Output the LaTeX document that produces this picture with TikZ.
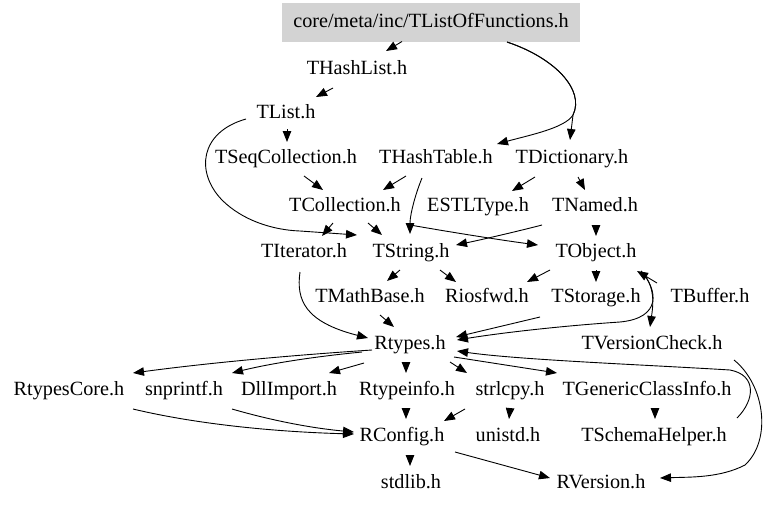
\documentclass[tikz,border=0pt]{standalone}
\usepackage{fontspec}
\setmainfont{Liberation Serif}
\usetikzlibrary{arrows.meta,calc}
\definecolor{rootgray}{HTML}{D3D3D3}
\tikzset{
  hdr/.style={inner sep=0pt, font=\fontsize{20.2}{24}\selectfont, text height=14pt, text depth=4.5pt},
  rootbox/.style={hdr, fill=rootgray, minimum width=298pt, minimum height=39pt},
  edge/.style={draw=black, line width=0.9pt, -{Triangle[length=11pt,width=8.5pt]}}
}
\begin{document}
\begin{tikzpicture}[x=1pt,y=-1pt]
\useasboundingbox (0,0) rectangle (768,507);
% nodes
\node[rootbox] (root) at (431,22.5) {core/meta/inc/TListOfFunctions.h};
\node[hdr] (HL) at (357,70) {THashList.h};
\node[hdr] (TL) at (286,114) {TList.h};
\node[hdr] (SC) at (286,159) {TSeqCollection.h};
\node[hdr] (HT) at (436,159) {THashTable.h};
\node[hdr] (DI) at (572,159) {TDictionary.h};
\node[hdr] (CO) at (345,207) {TCollection.h};
\node[hdr] (ES) at (478,207) {ESTLType.h};
\node[hdr] (NA) at (595,207) {TNamed.h};
\node[hdr] (IT) at (304,253) {TIterator.h};
\node[hdr] (ST) at (411,253) {TString.h};
\node[hdr] (OB) at (596,253) {TObject.h};
\node[hdr] (MB) at (370,298) {TMathBase.h};
\node[hdr] (RI) at (487,298) {Riosfwd.h};
\node[hdr] (SO) at (596,298) {TStorage.h};
\node[hdr] (BU) at (710,298) {TBuffer.h};
\node[hdr] (RT) at (410,345) {Rtypes.h};
\node[hdr] (VC) at (652,345) {TVersionCheck.h};
\node[hdr] (RC) at (69,391) {RtypesCore.h};
\node[hdr] (SN) at (184,391) {snprintf.h};
\node[hdr] (DL) at (289,391) {DllImport.h};
\node[hdr] (TI) at (407,391) {Rtypeinfo.h};
\node[hdr] (SL) at (510,391) {strlcpy.h};
\node[hdr] (GC) at (647,391) {TGenericClassInfo.h};
\node[hdr] (CF) at (402,437) {RConfig.h};
\node[hdr] (UN) at (508,437) {unistd.h};
\node[hdr] (SH) at (654,437) {TSchemaHelper.h};
\node[hdr] (SD) at (411,484) {stdlib.h};
\node[hdr] (RV) at (601,484) {RVersion.h};
% edges
\draw[edge] ($(root)+(-29,19)$) -- ($(HL)+(29,-19)$);
\draw[edge] ($(root)+(76,19.5)$) .. controls (555,58) and (585,90) .. (573,115) .. controls (565,128) and (530,135) .. ($(HT)+(61,-15)$);
\draw[edge] ($(root)+(76,19.5)$) .. controls (555,58) and (585,90) .. (573,115) -- ($(DI)+(-2,-19)$);
\draw[edge] ($(HL)+(-24,18)$) -- ($(TL)+(30,-17)$);
\draw[edge] ($(TL)+(1,15)$) -- ($(SC)+(1,-17)$);
\draw[edge] ($(TL)+(-40,5)$) .. controls (200,132) and (195,172) .. (222,200) .. controls (242,220) and (272,230) .. (300,231) -- ($(ST)+(-54,-18)$);
\draw[edge] ($(SC)+(18,17)$) -- ($(CO)+(-22,-17)$);
\draw[edge] ($(HT)+(-30,17)$) -- ($(CO)+(38,-17)$);
\draw[edge] ($(HT)+(-14,19)$) .. controls (415,195) and (410,215) .. ($(ST)+(-1,-19)$);
\draw[edge] ($(DI)+(-37,18)$) -- ($(ES)+(34,-16)$);
\draw[edge] ($(DI)+(6,18)$) -- ($(NA)+(-10,-17)$);
\draw[edge] ($(CO)+(-12,16)$) -- ($(IT)+(18,-17)$);
\draw[edge] ($(CO)+(23,16)$) -- ($(ST)+(-29,-18)$);
\draw[edge] ($(CO)+(65,18)$) .. controls (450,232) and (500,240) .. ($(OB)+(-58,-8)$);
\draw[edge] ($(NA)+(-53,18)$) .. controls (515,232) and (480,240) .. ($(ST)+(45,-8)$);
\draw[edge] ($(NA)+(1,18)$) -- ($(OB)+(0,-17)$);
\draw[edge] ($(IT)+(-4,19)$) .. controls (296,300) and (305,322) .. ($(RT)+(-42,-7)$);
\draw[edge] ($(ST)+(-11,17)$) -- ($(MB)+(17,-17)$);
\draw[edge] ($(ST)+(29,17)$) -- ($(RI)+(-31,-16)$);
\draw[edge] ($(OB)+(-46,17)$) -- ($(RI)+(40,-16)$);
\draw[edge] ($(OB)+(0,17)$) -- ($(SO)+(0,-16)$);
\draw[edge] ($(OB)+(45,18)$) .. controls (656,286) and (653,306) .. ($(VC)+(-2,-18)$);
\draw[edge] ($(OB)+(45,18)$) .. controls (658,290) and (662,318) .. (620,322) .. controls (560,326) and (500,333) .. ($(RT)+(47,-5)$);
\draw[edge] ($(BU)+(-53,-15)$) -- ($(OB)+(41,18)$);
\draw[edge] ($(SO)+(-56,19)$) -- ($(RT)+(46,-8)$);
\draw[edge] ($(MB)+(10,17)$) -- ($(RT)+(-16,-18)$);
\draw[edge] ($(RT)+(-38,5)$) .. controls (280,356) and (200,364) .. ($(RC)+(64,-18)$);
\draw[edge] ($(RT)+(-48,7)$) .. controls (300,358) and (260,366) .. ($(SN)+(48,-18)$);
\draw[edge] ($(RT)+(-46,18)$) -- ($(DL)+(40,-18)$);
\draw[edge] ($(RT)+(-4,17)$) -- ($(TI)+(-1,-18)$);
\draw[edge] ($(RT)+(40,17)$) -- ($(SL)+(-43,-18)$);
\draw[edge] ($(RT)+(44,12)$) -- ($(GC)+(-90,-18)$);
\draw[edge] ($(SH)+(83,-19)$) .. controls (755,400) and (757,375) .. (730,370) .. controls (650,365) and (520,360) .. ($(RT)+(47,6)$);
\draw[edge] ($(VC)+(82,15)$) .. controls (765,385) and (772,440) .. (745,465) .. controls (720,478) and (690,477) .. ($(RV)+(59,-6)$);
\draw[edge] ($(RC)+(64,18)$) .. controls (200,425) and (280,432) .. ($(CF)+(-48,-3)$);
\draw[edge] ($(SN)+(48,18)$) .. controls (270,420) and (310,428) .. ($(CF)+(-48,-5)$);
\draw[edge] ($(TI)+(-1,18)$) -- ($(CF)+(4,-18)$);
\draw[edge] ($(SL)+(-45,18)$) -- ($(CF)+(42,-16)$);
\draw[edge] ($(SL)+(0,18)$) -- ($(UN)+(1,-18)$);
\draw[edge] ($(GC)+(8,18)$) -- ($(SH)+(1,-18)$);
\draw[edge] ($(CF)+(8,18)$) -- ($(SD)+(-1,-18)$);
\draw[edge] ($(CF)+(53,15)$) -- ($(RV)+(-51,-6)$);
\end{tikzpicture}
\end{document}
